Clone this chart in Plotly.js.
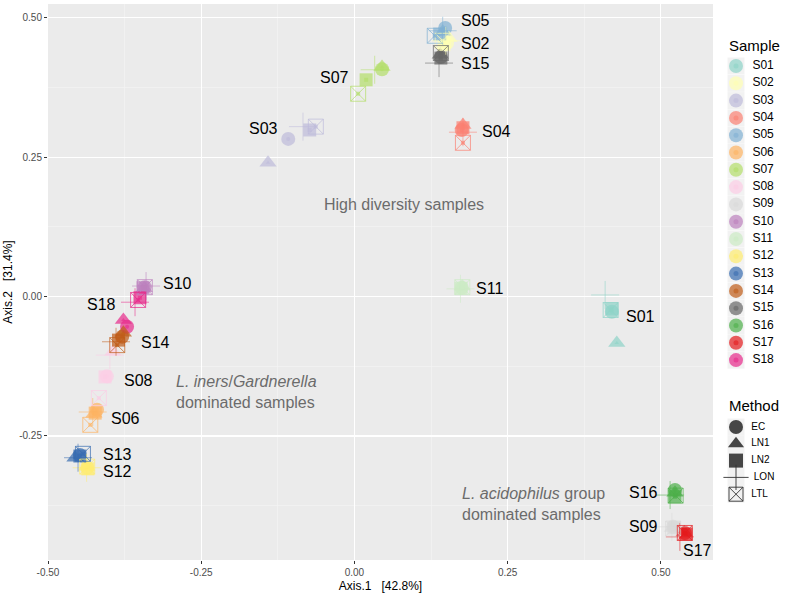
<!DOCTYPE html>
<html>
<head>
<meta charset="utf-8">
<script src="https://cdn.plot.ly/plotly-3.0.1.min.js"></script>
<style>body{margin:0;padding:0;background:#fff}#chart{width:789px;height:595px}</style>
</head>
<body>
<div id="chart"></div>
<script>
// ---- Data ----
const samples = ["S01","S02","S03","S04","S05","S06","S07","S08","S09","S10","S11","S12","S13","S14","S15","S16","S17","S18"];
const sampleColors = ["#8DD3C7","#FFFFB3","#BEBADA","#FB8072","#80B1D3","#FDB462","#B3DE69","#FCCDE5","#D9D9D9","#BC80BD","#CCEBC5","#FFED6F","#386CB0","#BF5B17","#666666","#4DAF4A","#E41A1C","#E7298A"];
const methods = ["EC","LN1","LN2","LON","LTL"];

// Axis.1 / Axis.2 coordinates per method, in sample order S01..S18
const ecX  = [0.420,0.151,-0.108,0.175,0.148,-0.420,0.045,-0.404,0.520,-0.342,0.175,-0.436,-0.448,-0.379,0.141,0.523,0.539,-0.371];
const ecY  = [-0.027,0.455,0.283,0.299,0.482,-0.203,0.408,-0.143,-0.413,0.017,0.016,-0.307,-0.284,-0.072,0.430,-0.347,-0.424,-0.054];
const ln1X = [0.428,0.154,-0.141,0.177,0.144,-0.425,0.045,-0.394,0.519,-0.343,0.176,-0.437,-0.456,-0.377,0.140,0.523,0.538,-0.377];
const ln1Y = [-0.083,0.464,0.240,0.308,0.475,-0.210,0.412,-0.099,-0.415,0.015,0.018,-0.305,-0.289,-0.065,0.434,-0.352,-0.423,-0.042];
const ln2X = [0.420,0.146,-0.073,0.177,0.139,-0.423,0.019,-0.407,0.521,-0.345,0.174,-0.435,-0.448,-0.385,0.141,0.523,0.541,-0.350];
const ln2Y = [-0.022,0.452,0.299,0.303,0.471,-0.209,0.389,-0.144,-0.415,0.016,0.015,-0.309,-0.286,-0.078,0.428,-0.359,-0.426,-0.002];
const lonX = [0.409,0.149,-0.084,0.177,0.144,-0.427,0.033,-0.399,0.518,-0.340,0.173,-0.437,-0.451,-0.389,0.138,0.515,0.531,-0.358];
const lonY = [0.003,0.459,0.305,0.295,0.477,-0.207,0.407,-0.105,-0.413,0.019,0.014,-0.307,-0.289,-0.081,0.419,-0.356,-0.431,-0.010];
const ltlX = [0.418,0.144,-0.063,0.177,0.131,-0.431,0.006,-0.417,0.520,-0.342,0.176,-0.436,-0.443,-0.387,0.141,0.524,0.539,-0.353];
const ltlY = [-0.024,0.459,0.305,0.276,0.468,-0.230,0.364,-0.182,-0.416,0.017,0.017,-0.305,-0.282,-0.087,0.437,-0.357,-0.424,-0.006];

// sample label anchor positions (data units)
const labelX = [0.466,0.198,-0.149,0.232,0.198,-0.374,-0.032,-0.352,0.472,-0.288,0.221,-0.386,-0.386,-0.324,0.198,0.471,0.560,-0.412];
const labelY = [-0.036,0.455,0.301,0.296,0.496,-0.218,0.394,-0.151,-0.413,0.023,0.014,-0.313,-0.284,-0.083,0.419,-0.352,-0.456,-0.015];

const tickVals = [-0.5,-0.25,0,0.25,0.5];
const tickText = ["-0.50","-0.25","0.00","0.25","0.50"];

// ---- Build traces ----
const FONT = "Liberation Sans, Arial, sans-serif";
const methodData = {EC:[ecX,ecY],LN1:[ln1X,ln1Y],LN2:[ln2X,ln2Y],LON:[lonX,lonY],LTL:[ltlX,ltlY]};
const symbols = {EC:"circle",LN1:"triangle-up",LN2:"square",LON:"cross-thin-open",LTL:"square-x-open"};
const sizes = {EC:14,LN1:15,LN2:13,LON:20,LTL:15};
const traces = [];
methods.forEach(m => {
  const [xs, ys] = methodData[m];
  const open = (m === "LON" || m === "LTL");
  traces.push({
    type:"scatter", mode:"markers", x:xs, y:ys, showlegend:false, hoverinfo:"skip",
    marker:{symbol:symbols[m], size:sizes[m], color:sampleColors, opacity: m==="LON" ? 0.55 : 0.7,
      line: open ? {color:sampleColors, width:1} : {width:0}}
  });
  if (!open || m === "LTL") {
    traces.push({
      type:"scatter", mode:"markers", x:xs, y:ys, showlegend:false, hoverinfo:"skip",
      marker:{symbol: m==="LTL" ? "square" : symbols[m], size:4, color:sampleColors, opacity:0.6, line:{width:0}}
    });
  }
});

// ---- Custom legend drawn on a side axis (pixel-like units) ----
const legKeyX = 736;
const sampleRowY = samples.map((s,i) => 66 + i*17.3);
const methodRowY = methods.map((m,i) => 427 + i*16.8);
const legXs = sampleRowY.map(() => legKeyX);
const methXs = methodRowY.map(() => legKeyX);
// key backgrounds
traces.push({type:"scatter", mode:"markers", xaxis:"x2", yaxis:"y2", showlegend:false, hoverinfo:"skip",
  x:legXs.concat(methXs), y:sampleRowY.concat(methodRowY),
  marker:{symbol:"square", size:17, color:"#F2F2F2", line:{width:0}}});
// sample keys
traces.push({type:"scatter", mode:"markers+text", xaxis:"x2", yaxis:"y2", showlegend:false, hoverinfo:"skip",
  x:legXs, y:sampleRowY, text:samples.map(s => "\u00a0\u00a0" + s), textposition:"middle right",
  textfont:{family:FONT, size:12, color:"#000"},
  marker:{symbol:"circle", size:14, color:sampleColors, opacity:0.7, line:{width:0}}});
traces.push({type:"scatter", mode:"markers", xaxis:"x2", yaxis:"y2", showlegend:false, hoverinfo:"skip",
  x:legXs, y:sampleRowY, marker:{symbol:"circle", size:5, color:sampleColors, opacity:0.6, line:{width:0}}});
// method keys
methods.forEach((m,i) => {
  const open = (m === "LON" || m === "LTL");
  traces.push({type:"scatter", mode:"markers+text", xaxis:"x2", yaxis:"y2", showlegend:false, hoverinfo:"skip",
    x:[legKeyX], y:[methodRowY[i]], text:["\u00a0\u00a0" + m], textposition:"middle right",
    textfont:{family:FONT, size:10, color:"#000"},
    marker:{symbol:symbols[m], size: m==="LON" ? 18 : 14, color:"#333333", opacity:0.9,
      line: open ? {color:"#333333", width:1} : {width:0}}});
});

const annotations = samples.map((s,i) => ({
  x: labelX[i], y: labelY[i], xref:"x", yref:"y", text:s, showarrow:false,
  font:{family:FONT, size:16, color:"#000"}
}));
annotations.push(
  {x:0.081, y:0.166, xref:"x", yref:"y", text:"High diversity samples", showarrow:false,
   font:{family:FONT, size:16, color:"#6b6b6b"}},
  {x:-0.295, y:-0.171, xref:"x", yref:"y", xanchor:"left", align:"left",
   text:"<i>L. iners</i>/<i>Gardnerella</i><br>dominated samples", showarrow:false,
   font:{family:FONT, size:16, color:"#6b6b6b"}},
  {x:0.173, y:-0.372, xref:"x", yref:"y", xanchor:"left", align:"left",
   text:"<i>L. acidophilus</i> group<br>dominated samples", showarrow:false,
   font:{family:FONT, size:16, color:"#6b6b6b"}},
  {x:727, y:45, xref:"x2", yref:"y2", xanchor:"left", text:"Sample", showarrow:false,
   font:{family:FONT, size:15, color:"#000"}},
  {x:727, y:405, xref:"x2", yref:"y2", xanchor:"left", text:"Method", showarrow:false,
   font:{family:FONT, size:15, color:"#000"}}
);

const axisCommon = {
  tickvals:tickVals, ticktext:tickText, showgrid:true, gridcolor:"#ffffff", gridwidth:1.1,
  zeroline:false, ticks:"outside", ticklen:3, tickcolor:"#333333", tickwidth:1,
  tickfont:{family:FONT, size:10, color:"#4d4d4d"},
  showline:false,
  minor:{dtick:0.125, showgrid:true, gridcolor:"#f5f5f5", gridwidth:0.6, ticks:""}
};

const plotW = 789 - 48; // width of plotting region (margin r = 0)
const layout = {
  width:789, height:595,
  margin:{l:48, r:0, t:4, b:35},
  paper_bgcolor:"#ffffff", plot_bgcolor:"rgba(0,0,0,0)",
  font:{family:FONT},
  showlegend:false,
  shapes:[{type:"rect", xref:"x domain", yref:"y domain", x0:0, x1:1, y0:0, y1:1,
    fillcolor:"#EBEBEB", line:{width:0}, layer:"below"}],
  xaxis:Object.assign({}, axisCommon, {range:[-0.5, 0.585], domain:[0, 665/plotW], anchor:"y",
    title:{text:"Axis.1\u00a0\u00a0\u00a0[42.8%]", font:{size:12, color:"#000"}, standoff:4}}),
  yaxis:Object.assign({}, axisCommon, {range:[-0.4725, 0.525], anchor:"x",
    title:{text:"Axis.2\u00a0\u00a0\u00a0[31.4%]", font:{size:12, color:"#000"}, standoff:4}}),
  xaxis2:{domain:[(720-48)/plotW, 1], range:[720, 789], anchor:"y2", visible:false, fixedrange:true},
  yaxis2:{domain:[0,1], range:[560, 4], anchor:"x2", visible:false, fixedrange:true},
  annotations:annotations
};

Plotly.newPlot("chart", traces, layout, {displayModeBar:false, staticPlot:true});
</script>
</body>
</html>
